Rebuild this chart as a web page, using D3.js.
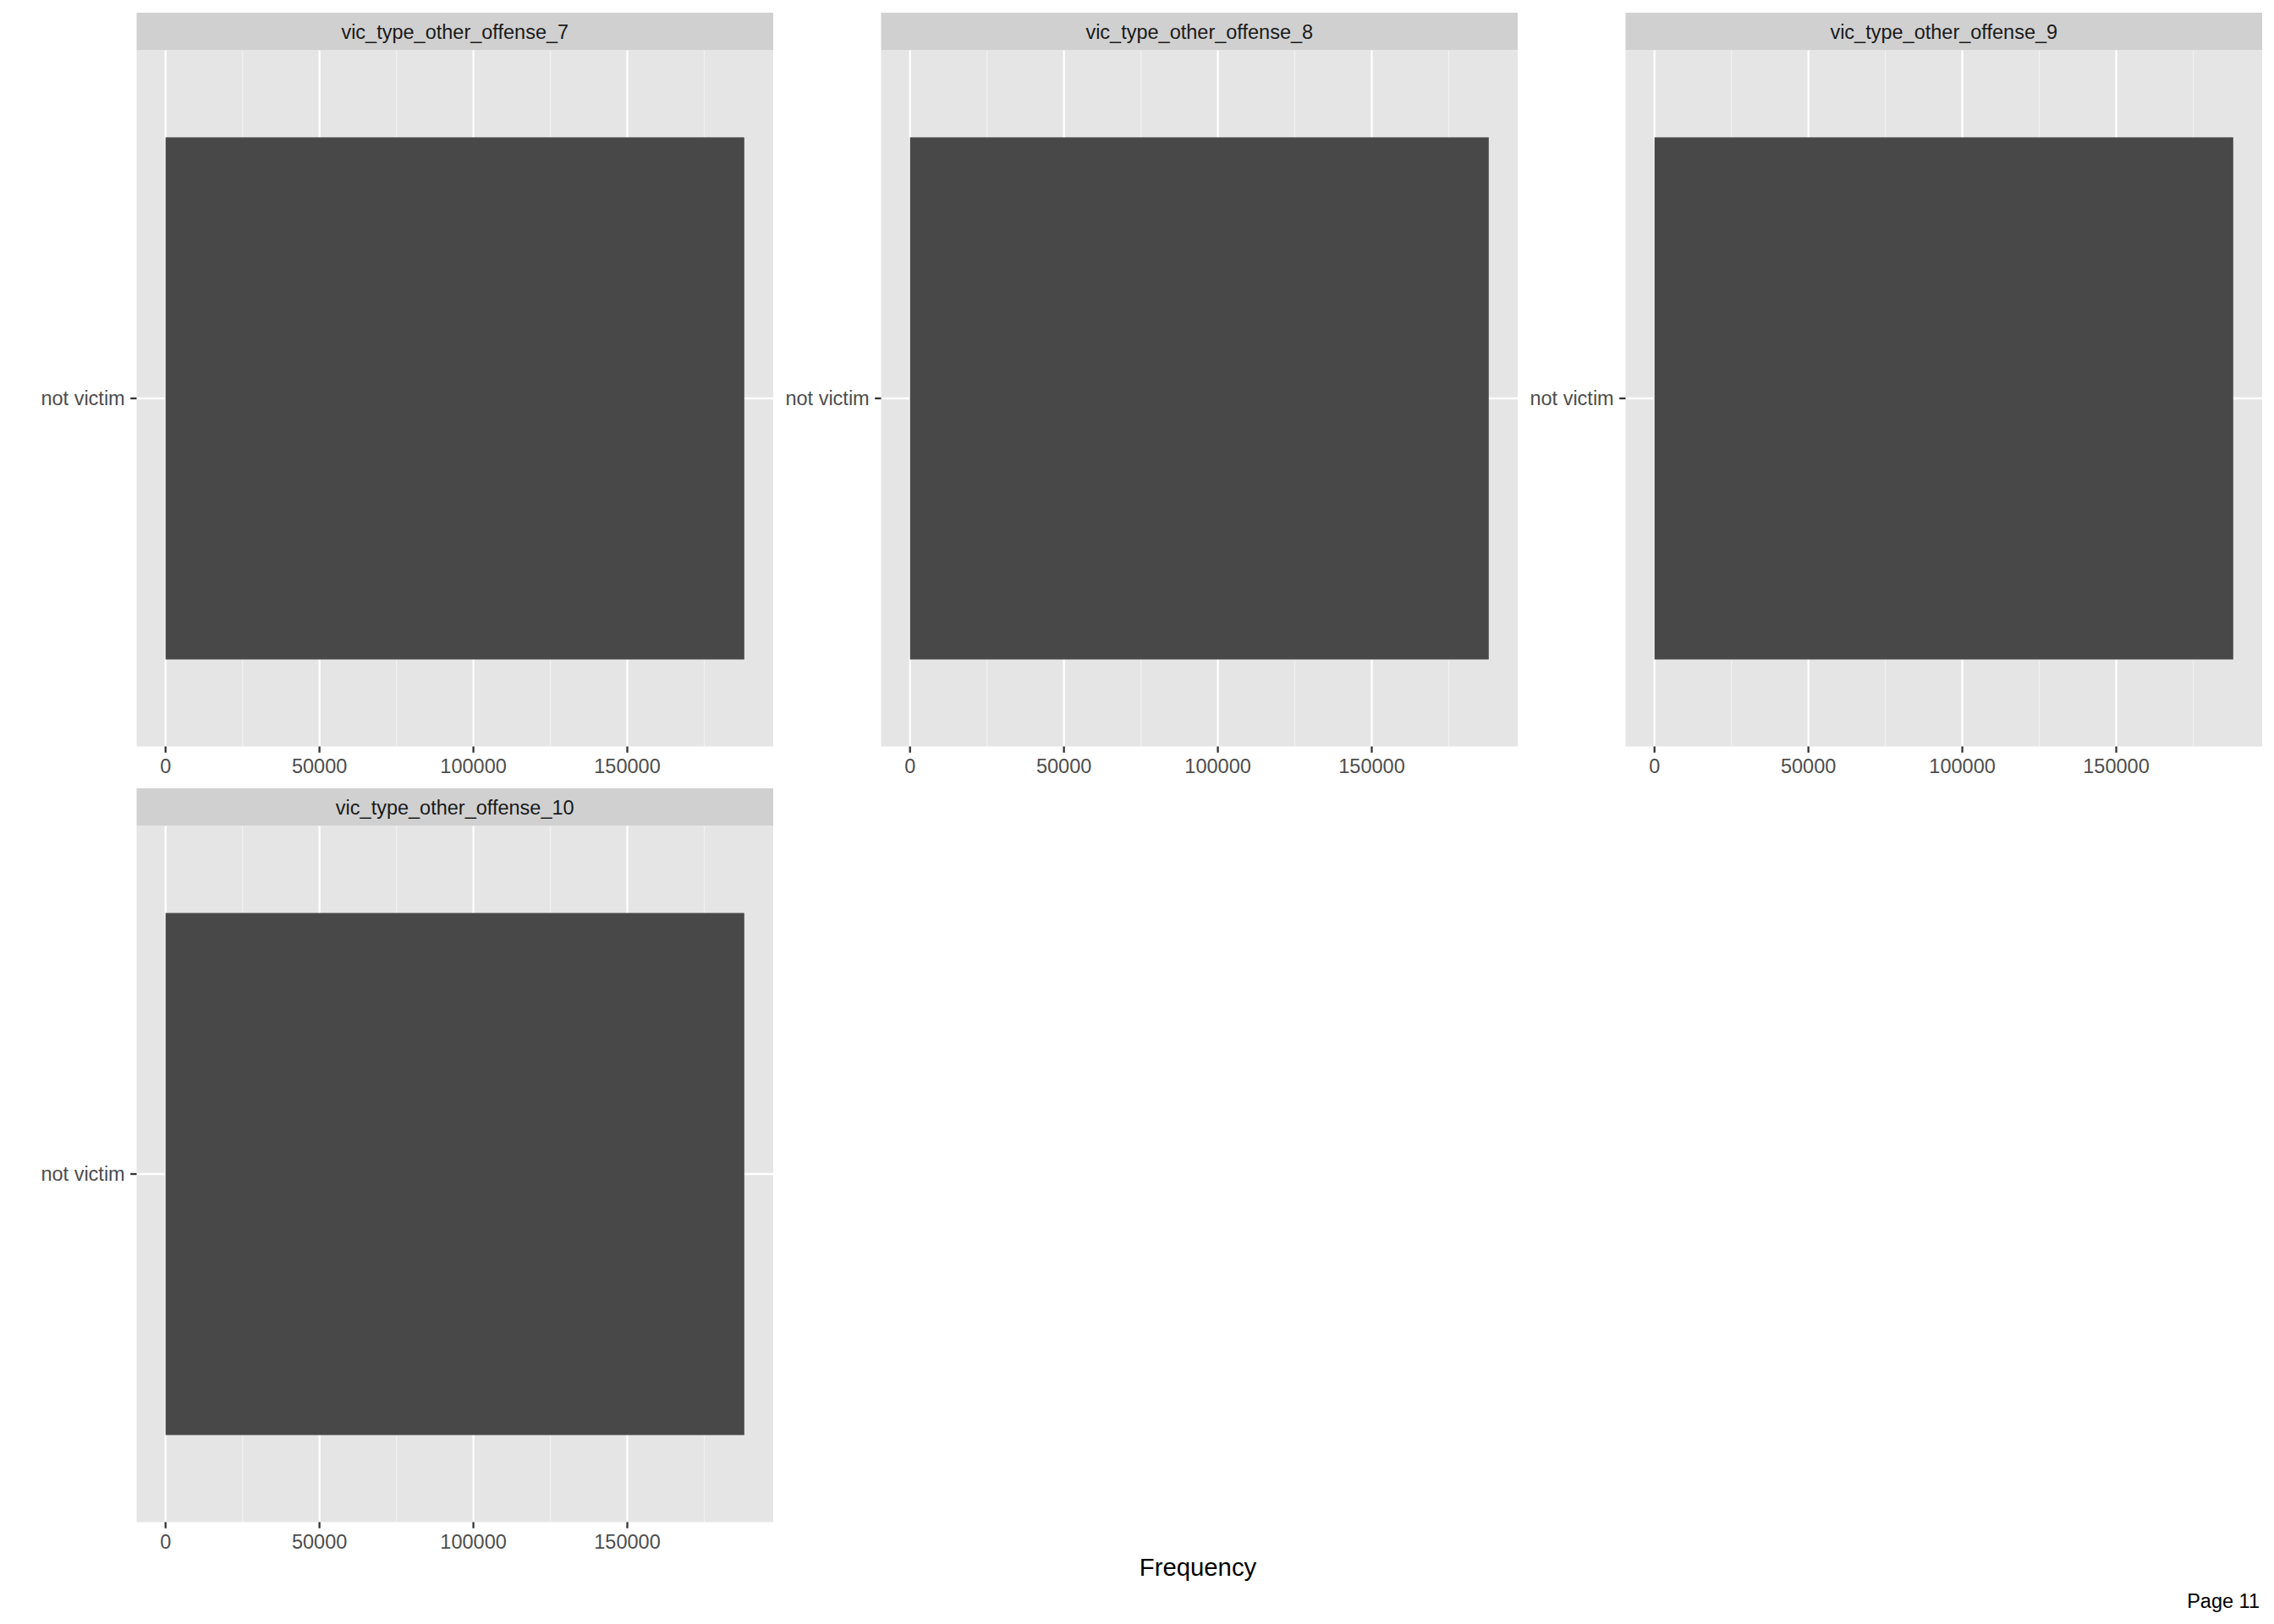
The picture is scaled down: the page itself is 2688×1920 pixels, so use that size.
<!DOCTYPE html>
<html>
<head>
<meta charset="utf-8">
<script src="https://cdn.jsdelivr.net/npm/d3@7"></script>
<style>
  html, body { margin: 0; padding: 0; background: #ffffff; }
  svg { display: block; }
  text { font-family: "Liberation Sans", Arial, Helvetica, sans-serif; }
</style>
</head>
<body>
<svg id="chart" width="2688" height="1920"></svg>
<script>
// ---- data ----
const panelNames = [
  "vic_type_other_offense_7",
  "vic_type_other_offense_8",
  "vic_type_other_offense_9",
  "vic_type_other_offense_10"
];
const categories = ["not victim"];
const panelCounts = [188000, 188000, 188000, 188000];
const xTickValues = [0, 50000, 100000, 150000];
const xMinorValues = [25000, 75000, 125000, 175000];
const xTitle = "Frequency";
const pageLabel = "Page 11";

// ---- layout ----
const W = 2688, H = 1920;
const ncol = 3;
const panelLeft = 161.5, panelW = 752.5, colGap = 127.5;
const rowTops = [15, 932];
const stripH = 44.5, panelH = 823;
const fontAxis = 23.5, fontTitle = 29.3;
const tickLen = 7.3;

const svg = d3.select("#chart");
svg.append("rect").attr("width", W).attr("height", H).attr("fill", "#ffffff");

const maxVal = d3.max(panelCounts);
const expand = 0.05 * maxVal;

panelNames.forEach((name, i) => {
  const col = i % ncol, row = Math.floor(i / ncol);
  const x0 = panelLeft + col * (panelW + colGap);
  const sTop = rowTops[row];
  const pTop = sTop + stripH;
  const pBot = pTop + panelH;

  const x = d3.scaleLinear().domain([-expand, maxVal + expand]).range([x0, x0 + panelW]);
  const y = d3.scaleBand().domain(categories).range([pTop, pBot])
    .paddingInner(0.1).paddingOuter(0.15).align(0.5);

  const g = svg.append("g");

  // strip
  g.append("rect").attr("x", x0).attr("y", sTop).attr("width", panelW).attr("height", stripH)
    .attr("fill", "#D0D0D0");
  g.append("text").attr("x", x0 + panelW / 2).attr("y", sTop + stripH / 2).attr("dy", "0.36em")
    .attr("text-anchor", "middle").attr("font-size", fontAxis).attr("fill", "#1A1A1A").text(name);

  // panel background
  g.append("rect").attr("x", x0).attr("y", pTop).attr("width", panelW).attr("height", panelH)
    .attr("fill", "#E5E5E5");

  // minor grid
  g.selectAll(".minor").data(xMinorValues).enter().append("line")
    .attr("x1", d => x(d)).attr("x2", d => x(d)).attr("y1", pTop).attr("y2", pBot)
    .attr("stroke", "#F2F2F2").attr("stroke-width", 1.2);
  // major grid
  g.selectAll(".major").data(xTickValues).enter().append("line")
    .attr("x1", d => x(d)).attr("x2", d => x(d)).attr("y1", pTop).attr("y2", pBot)
    .attr("stroke", "#FFFFFF").attr("stroke-width", 2.3);
  g.selectAll(".hmajor").data(categories).enter().append("line")
    .attr("x1", x0).attr("x2", x0 + panelW)
    .attr("y1", d => y(d) + y.bandwidth() / 2).attr("y2", d => y(d) + y.bandwidth() / 2)
    .attr("stroke", "#FFFFFF").attr("stroke-width", 2.3);

  // bars
  g.selectAll(".bar").data(categories.map(c => ({ c, v: panelCounts[i] }))).enter().append("rect")
    .attr("x", x(0)).attr("y", d => y(d.c))
    .attr("width", d => x(d.v) - x(0)).attr("height", y.bandwidth())
    .attr("fill", "#484848");

  // x axis ticks & labels
  g.selectAll(".xt").data(xTickValues).enter().append("line")
    .attr("x1", d => x(d)).attr("x2", d => x(d)).attr("y1", pBot).attr("y2", pBot + tickLen)
    .attr("stroke", "#333333").attr("stroke-width", 2.3);
  g.selectAll(".xl").data(xTickValues).enter().append("text")
    .attr("x", d => x(d)).attr("y", pBot + 31.5)
    .attr("text-anchor", "middle").attr("font-size", fontAxis).attr("fill", "#4D4D4D")
    .text(d => d3.format("d")(d));

  // y axis ticks & labels
  g.selectAll(".yt").data(categories).enter().append("line")
    .attr("x1", x0 - tickLen).attr("x2", x0)
    .attr("y1", d => y(d) + y.bandwidth() / 2).attr("y2", d => y(d) + y.bandwidth() / 2)
    .attr("stroke", "#333333").attr("stroke-width", 2.3);
  g.selectAll(".yl").data(categories).enter().append("text")
    .attr("x", x0 - tickLen - 6.5).attr("y", d => y(d) + y.bandwidth() / 2).attr("dy", "0.35em")
    .attr("text-anchor", "end").attr("font-size", fontAxis).attr("fill", "#4D4D4D")
    .text(d => d);
});

// axis title
svg.append("text").attr("x", 1416).attr("y", 1853).attr("dy", "0.35em")
  .attr("text-anchor", "middle").attr("font-size", fontTitle).attr("fill", "#000000").text(xTitle);

// page label
svg.append("text").attr("x", 2671).attr("y", 1893).attr("dy", "0.35em")
  .attr("text-anchor", "end").attr("font-size", fontAxis).attr("fill", "#000000").text(pageLabel);
</script>
</body>
</html>
